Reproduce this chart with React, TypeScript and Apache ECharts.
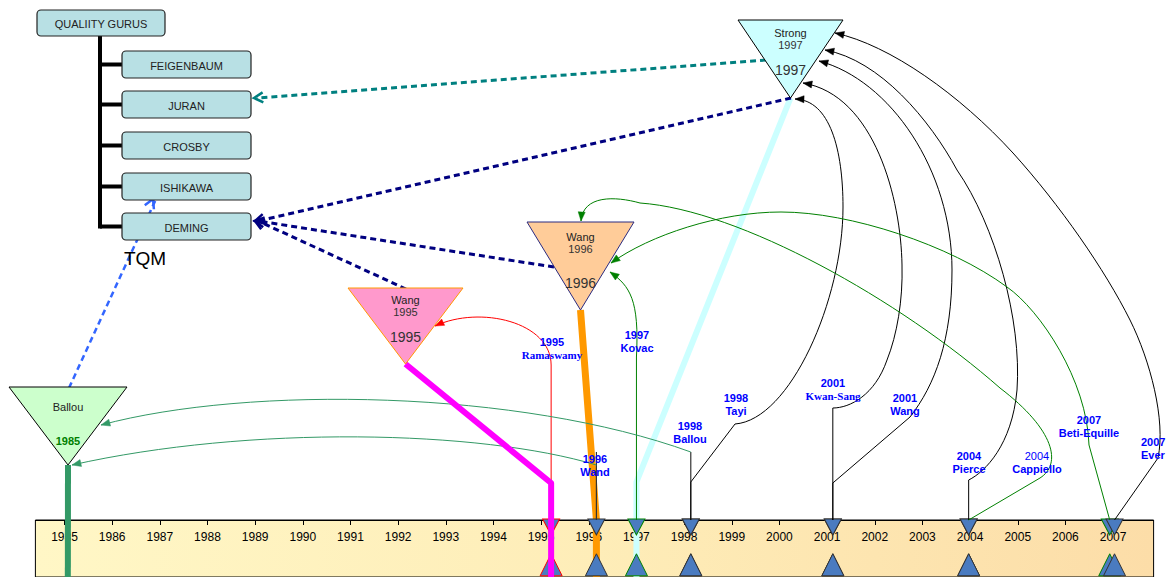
import React, { useEffect, useRef } from "react";
import * as echarts from "echarts";

// ---------------- data ----------------
const tickYears = [1985, 1986, 1987, 1988, 1989, 1990, 1991, 1992, 1993, 1994, 1995, 1996, 1997, 1998, 1999, 2000, 2001, 2002, 2003, 2004, 2005, 2006, 2007];
const rootLabel = "QUALIITY GURUS";
const gurus = ["FEIGENBAUM", "JURAN", "CROSBY", "ISHIKAWA", "DEMING"];
const schoolLabel = "TQM";

const sourceNames = ["Ballou", "Wang", "Wang", "Strong"];
const sourceYears = [1985, 1995, 1996, 1997];
const sourceTimelineAt = [1985.07, 1995.21, 1996.16, 1997.0];
const sourceGuruLinks = [["ISHIKAWA"], ["DEMING"], ["DEMING"], ["DEMING", "JURAN"]];

const citingAuthors = ["Ramaswamy", "Wand", "Kovac", "Ballou", "Tayi", "Kwan-Sang", "Wang", "Pierce", "Cappiello", "Beti-Equille", "Ever"];
const citingYears = [1995, 1996, 1997, 1998, 1998, 2001, 2001, 2004, 2004, 2007, 2007];
const citingTimelineAt = [1995.21, 1996.16, 1997.0, 1998.14, 1998.14, 2001.12, 2001.12, 2003.97, 2003.97, 2006.93, 2007.03];
const citingSource = [1, 0, 2, 0, 3, 3, 3, 3, 2, 2, 3];

// ---------------- layout & style ----------------
const FONT = '"Liberation Sans", Arial, Helvetica, sans-serif';
const SERIF = '"Liberation Serif", "Times New Roman", serif';
const BAND = { left: 35.4, top: 520, width: 1118.2, height: 70 };
const AXIS_MIN = 1984.39;
const AXIS_MAX = 2007.85;
const BOX_FILL = "#B8E0E4";
const BLUE = "#0000FF";
const MARKER_FILL = "#4A7BC0";

const nodeLayout = [
  { x1: 9, x2: 127, top: 387, apexY: 465, fill: "#CCFFCC", stroke: "#000", nameY: 407, yearY: 441, yearColor: "#008000", yearBold: true, bigY: null as number | null, stem: "#339966", stemW: 6, bendY: null as number | null, stemZ: 6 },
  { x1: 348, x2: 463, top: 288, apexY: 364, fill: "#FF99CC", stroke: "#FF9900", nameY: 300, yearY: 312, yearColor: "#333", yearBold: false, bigY: 337, stem: "#FF00FF", stemW: 6, bendY: 483, stemZ: 6 },
  { x1: 527, x2: 634, top: 222, apexY: 310, fill: "#FFCC99", stroke: "#2B2B80", nameY: 237, yearY: 249, yearColor: "#333", yearBold: false, bigY: 283, stem: "#FF9900", stemW: 7, bendY: 520, stemZ: 3 },
  { x1: 738, x2: 843, top: 20, apexY: 98, fill: "#CCFFFF", stroke: "#000", nameY: 33, yearY: 45, yearColor: "#333", yearBold: false, bigY: 70, stem: "#CCFFFF", stemW: 6, bendY: 482, stemZ: 3 },
];

const tree = { root: { x: 37, y: 10, w: 128, h: 26 }, childX: 122, childW: 129, childH: 27, childY: [51, 91, 132, 173, 213], trunkX: 100 };
const guruAnchor: Record<string, [number, number]> = { JURAN: [254, 98], DEMING: [255, 221], ISHIKAWA: [153, 199] };
const guruLinkColor: Record<string, string> = { JURAN: "#008080", DEMING: "#000080", ISHIKAWA: "#3366FF" };
const sourceLinkFrom: [number, number][][] = [[[69, 388]], [[406, 289]], [[554, 267]], [[791, 98], [766, 60]]];

type CiteLayout = { path: (X: number) => string; tip: [number, number]; from: [number, number]; color: string; stub?: [number, number]; label: [number, number]; align?: string; marker: string };
const citeLayout: CiteLayout[] = [
  { path: (X) => `M${X} 520 V365 C${X} 322 480 305 435 326`, tip: [435, 326], from: [480, 305], color: "#FF0000", label: [552, 342], marker: "#FF0000" },
  { path: (X) => `M${X} 465 C480 430 250 425 72 465`, tip: [72, 465], from: [250, 425], color: "#339966", stub: [520, 452], label: [595, 459], marker: "#333" },
  { path: (X) => `M${X} 520 V357 C${X + 3} 300 630 286 610 272`, tip: [610, 272], from: [630, 286], color: "#008000", label: [637, 335], marker: "#008000" },
  { path: (X) => `M${X} 452 C520 390 250 385 101 425`, tip: [101, 425], from: [250, 385], color: "#339966", stub: [520, 452], label: [690, 426], marker: "#333" },
  { path: (X) => `M${X} 520 V482 L735 424 C790 420 843 300 843 207 C843 150 830 100 795 99`, tip: [795, 99], from: [830, 100], color: "#000", label: [736, 398], marker: "#333" },
  { path: (X) => `M${X} 520 V408 C850 408 875 395 887 360 C897 335 903 300 902 265 C901 200 875 95 803 83`, tip: [803, 83], from: [875, 95], color: "#000", label: [833, 383], marker: "#333" },
  { path: (X) => `M${X} 520 V483 L910 417 C935 385 952 340 952 270 C952 170 890 80 819 61`, tip: [819, 61], from: [890, 80], color: "#000", label: [905, 398], marker: "#333" },
  { path: (X) => `M${X} 520 V480 C985 472 1012 445 1017 390 C1022 320 995 225 957 170 C930 120 880 60 825 50`, tip: [825, 50], from: [880, 60], color: "#000", label: [969, 456], marker: "#333" },
  { path: (X) => `M${X} 520 L1040 478 C1062 464 1055 430 1000 388 C900 300 740 210 640 203 C615 196 583 195 581 221`, tip: [581, 221], from: [583, 195], color: "#008000", label: [1037, 456], marker: "#333" },
  { path: (X) => `M${X} 520 L1089 445 C1087 380 1040 310 1007 287 C950 245 850 212 781 212 C720 212 650 235 611 263`, tip: [611, 263], from: [650, 235], color: "#008000", label: [1089, 420], marker: "#008000" },
  { path: (X) => `M${X} 520 L1158 458 C1166 420 1150 360 1130 320 C1105 270 1060 205 1013 153 C960 95 890 45 835 33`, tip: [835, 33], from: [890, 45], color: "#000", label: [1141, 442], align: "left", marker: "#333" },
];
const serifNames = ["Ramaswamy", "Kwan-Sang"];
const plainYearNames = ["Cappiello"];

function text(x: number, y: number, s: string, opts: any = {}) {
  return {
    type: "text",
    z: opts.z ?? 12,
    silent: true,
    style: {
      x, y, text: s,
      fill: opts.color ?? "#222",
      fontSize: opts.size ?? 11,
      fontWeight: opts.weight ?? "normal",
      fontFamily: opts.family ?? FONT,
      align: opts.align ?? "center",
      verticalAlign: "middle",
      textAlign: opts.align ?? "center",
      textVerticalAlign: "middle",
    },
  };
}

function headPoints(tip: [number, number], from: [number, number], len: number, half: number) {
  const dx = tip[0] - from[0];
  const dy = tip[1] - from[1];
  const d = Math.hypot(dx, dy) || 1;
  const ux = dx / d, uy = dy / d;
  const bx = tip[0] - ux * len, by = tip[1] - uy * len;
  return [[tip[0], tip[1]], [bx - uy * half, by + ux * half], [bx + uy * half, by - ux * half]];
}

function buildGraphics(px: (yr: number) => number) {
  const els: any[] = [];
  // tree
  const r = tree.root;
  els.push({ type: "rect", z: 20, shape: { x: r.x, y: r.y, width: r.w, height: r.h, r: 4 }, style: { fill: BOX_FILL, stroke: "#222", lineWidth: 1.2 } });
  els.push(text(r.x + r.w / 2, r.y + r.h / 2 + 1, rootLabel, { size: 11, z: 21 }));
  const lastY = tree.childY[tree.childY.length - 1] + tree.childH / 2 + 2;
  els.push({ type: "line", z: 19, shape: { x1: tree.trunkX, y1: r.y + r.h, x2: tree.trunkX, y2: lastY }, style: { stroke: "#000", lineWidth: 4 } });
  gurus.forEach((g, i) => {
    const y = tree.childY[i];
    const cy = y + tree.childH / 2;
    els.push({ type: "line", z: 19, shape: { x1: tree.trunkX, y1: cy, x2: tree.childX, y2: cy }, style: { stroke: "#000", lineWidth: 4 } });
    els.push({ type: "rect", z: 20, shape: { x: tree.childX, y, width: tree.childW, height: tree.childH, r: 4 }, style: { fill: BOX_FILL, stroke: "#222", lineWidth: 1.2 } });
    els.push(text(tree.childX + tree.childW / 2, cy + 1, g, { size: 11, z: 21 }));
  });
  els.push(text(145, 258, schoolLabel, { size: 19, color: "#000", z: 21 }));

  // stems
  nodeLayout.forEach((n, i) => {
    const ax = (n.x1 + n.x2) / 2;
    const X = px(sourceTimelineAt[i]);
    const pts: number[][] = [[ax, n.apexY]];
    if (n.bendY != null) pts.push([X, n.bendY]);
    pts.push([X, 600]);
    els.push({ type: "polyline", z: n.stemZ, shape: { points: pts }, style: { stroke: n.stem, lineWidth: n.stemW, fill: "none", lineJoin: "round" } });
  });

  // dashed links to gurus
  sourceGuruLinks.forEach((links, i) => {
    links.forEach((g, k) => {
      const from = sourceLinkFrom[i][k];
      const tip = guruAnchor[g];
      const color = guruLinkColor[g];
      els.push({ type: "line", z: 8, shape: { x1: from[0], y1: from[1], x2: tip[0] + 3, y2: tip[1] }, style: { stroke: color, lineWidth: g === "ISHIKAWA" ? 2.5 : 3, lineDash: [6, 4] } });
      const hp = headPoints(tip, from, 9, 5);
      els.push({ type: "polyline", z: 8, shape: { points: [hp[1], hp[0], hp[2]] }, style: { stroke: color, lineWidth: 2.5, fill: "none" } });
    });
  });

  // source nodes
  nodeLayout.forEach((n, i) => {
    const ax = (n.x1 + n.x2) / 2;
    els.push({ type: "polygon", z: 10, shape: { points: [[n.x1, n.top], [n.x2, n.top], [ax, n.apexY]] }, style: { fill: n.fill, stroke: n.stroke, lineWidth: 1 } });
    els.push(text(ax, n.nameY, sourceNames[i], { size: 11, color: "#222" }));
    els.push(text(ax, n.yearY, String(sourceYears[i]), { size: 11, color: n.yearColor, weight: n.yearBold ? "bold" : "normal" }));
    if (n.bigY != null) els.push(text(ax, n.bigY, String(sourceYears[i]), { size: 14, color: "#333" }));
  });

  // citation curves
  citeLayout.forEach((c, i) => {
    const X = px(citingTimelineAt[i]);
    if (c.stub) {
      els.push({ type: "line", z: 5, shape: { x1: X, y1: c.stub[0], x2: X, y2: c.stub[1] }, style: { stroke: "#333", lineWidth: 1.2 } });
    }
    const name = "citeCurve" + i;
    echarts.graphic.registerShape(name, echarts.graphic.extendPath(c.path(X), {}));
    els.push({ type: name, z: 5, silent: true, style: { stroke: c.color, lineWidth: 1, fill: "none" } });
    els.push({ type: "polygon", z: 5, shape: { points: headPoints(c.tip, c.from, 9, 3.5) }, style: { fill: c.color, stroke: c.color, lineWidth: 0.5 } });
    const [lx, ly] = c.label;
    const align = c.align ?? "center";
    const author = citingAuthors[i];
    els.push(text(lx, ly, String(citingYears[i]), { size: 11, color: BLUE, weight: plainYearNames.includes(author) ? "normal" : "bold", align }));
    const serif = serifNames.includes(author);
    els.push(text(lx, ly + 13, author, { size: 11, color: BLUE, weight: "bold", align, family: serif ? SERIF : FONT }));
  });
  return els;
}

function buildBase() {
  const grad = new echarts.graphic.LinearGradient(0, 0, 1, 0, [
    { offset: 0, color: "#FFF7C6" },
    { offset: 0.5, color: "#FEEDB8" },
    { offset: 1, color: "#FCDDA8" },
  ]);
  return {
    animation: false,
    backgroundColor: "#ffffff",
    grid: [{ left: BAND.left, top: BAND.top, width: BAND.width, height: BAND.height, show: true, backgroundColor: grad, borderColor: "#000", borderWidth: 1, z: 0 }],
    xAxis: [{
      type: "value", gridIndex: 0, min: AXIS_MIN, max: AXIS_MAX, position: "top",
      axisLine: { show: true, onZero: false, lineStyle: { color: "#000", width: 1 } },
      axisTick: { show: true, inside: true, length: 5, lineStyle: { color: "#000" }, customValues: tickYears },
      axisLabel: { show: true, inside: true, margin: 11, customValues: tickYears, formatter: (v: number) => String(v), color: "#000", fontSize: 12, fontFamily: FONT },
      splitLine: { show: false },
    }],
    yAxis: [{ type: "value", gridIndex: 0, min: 0, max: 70, inverse: true, show: false, splitLine: { show: false } }],
    series: [
      {
        type: "scatter", xAxisIndex: 0, yAxisIndex: 0, symbol: "triangle", symbolRotate: 180, symbolSize: [17, 16], z: 4, silent: true,
        data: citingTimelineAt.map((t, i) => ({ value: [t, 8.5], itemStyle: { color: MARKER_FILL, opacity: 1, borderColor: citeLayout[i].marker, borderWidth: 1 } })),
      },
      {
        type: "scatter", xAxisIndex: 0, yAxisIndex: 0, symbol: "triangle", symbolSize: [22, 22], z: 4, silent: true,
        data: citingTimelineAt.map((t, i) => ({ value: [t, 55], itemStyle: { color: MARKER_FILL, opacity: 1, borderColor: citeLayout[i].marker, borderWidth: 1 } })),
      },
    ],
  };
}

export default function App() {
  const ref = useRef<HTMLDivElement>(null);
  useEffect(() => {
    const el = ref.current;
    if (!el) return;
    const chart = echarts.init(el, null, { renderer: "svg" });
    chart.setOption(buildBase() as any);
    const px = (yr: number) => chart.convertToPixel({ xAxisIndex: 0 } as any, yr) as unknown as number;
    chart.setOption({ graphic: { elements: buildGraphics(px) } } as any);
    return () => chart.dispose();
  }, []);
  return <div ref={ref} style={{ position: "absolute", left: 0, top: 0, width: 1166, height: 577 }} />;
}
